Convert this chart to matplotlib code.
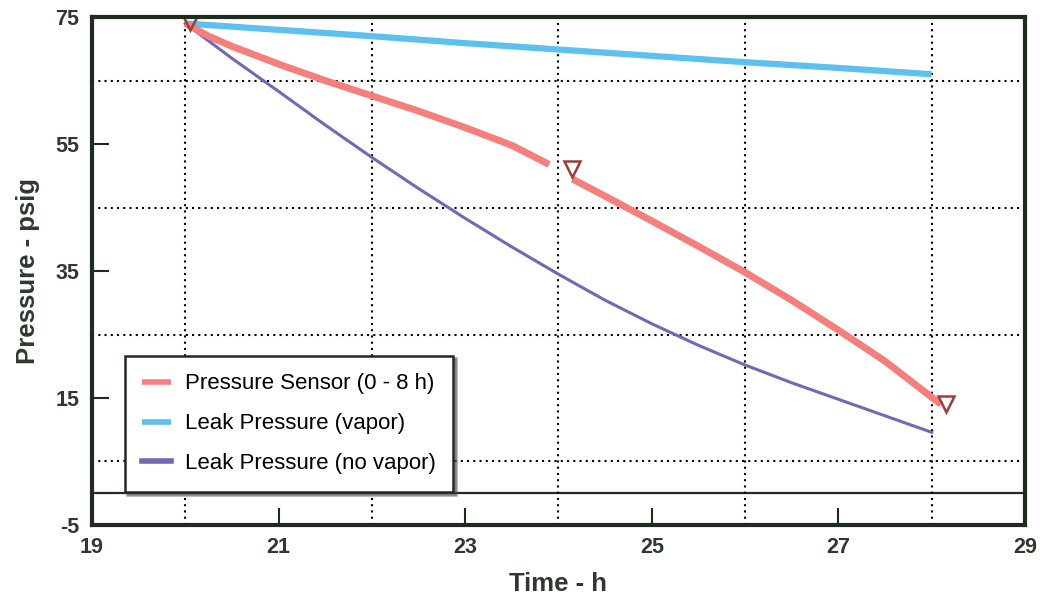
import matplotlib
matplotlib.use("Agg")
import matplotlib.pyplot as plt

plt.rcParams["axes.unicode_minus"] = False
plt.rcParams["font.family"] = ["Liberation Sans", "DejaVu Sans"]

# Data
t_sensor_a = [20.0, 20.25, 20.5, 21.0, 21.5, 22.0, 22.5, 23.0, 23.5, 23.9]
p_sensor_a = [74.0, 72.0, 70.4, 67.6, 65.0, 62.6, 60.2, 57.6, 54.8, 51.8]
t_sensor_b = [24.15, 24.5, 25.0, 25.5, 26.0, 26.5, 27.0, 27.5, 28.1]
p_sensor_b = [49.5, 46.8, 42.9, 38.9, 34.8, 30.4, 25.7, 20.8, 14.0]

t_vapor = [20.0, 21.0, 22.0, 23.0, 24.0, 25.0, 26.0, 27.0, 28.0]
p_vapor = [74.0, 73.0, 72.0, 70.9, 69.9, 68.9, 67.9, 67.0, 66.0]

t_novapor = [20.0, 20.5, 21.0, 21.5, 22.0, 22.5, 23.0, 23.5, 24.0,
             24.5, 25.0, 25.5, 26.0, 26.5, 27.0, 27.5, 28.0]
p_novapor = [74.0, 68.5, 63.3, 58.0, 52.9, 48.0, 43.3, 38.8, 34.5,
             30.4, 26.7, 23.3, 20.2, 17.4, 14.8, 12.2, 9.6]

t_marks = [20.05, 24.15, 28.15]
p_marks = [74.3, 51.0, 14.0]

x_ticks = [19, 21, 23, 25, 27, 29]
y_ticks = [-5, 15, 35, 55, 75]
x_grid = [20, 22, 24, 26, 28]
y_grid = [5, 25, 45, 65]

dark = "#1f2b1f"
text_col = "#2e3a2e"
red = "#f47f7c"
blue = "#5ec0ee"
purple = "#7467b4"

fig = plt.figure(figsize=(10.4, 6.01), dpi=100)
ax = fig.add_axes([0.0885, 0.1265, 0.897, 0.845])

ax.plot(t_vapor, p_vapor, color=blue, lw=4.5, solid_capstyle="butt",
        label="Leak Pressure (vapor)")
ax.plot(t_novapor, p_novapor, color=purple, lw=2.2,
        label="Leak Pressure (no vapor)")
ax.plot(t_sensor_a, p_sensor_a, color=red, lw=5, solid_capstyle="butt",
        label="Pressure Sensor (0 - 8 h)")
ax.plot(t_sensor_b, p_sensor_b, color=red, lw=5, solid_capstyle="butt")
ax.plot(t_marks, p_marks, linestyle="none", marker="v", ms=11,
        markerfacecolor="none", markeredgecolor="#9c3c3c", mew=1.8)

ax.axhline(0, color=dark, lw=1.6, zorder=1)

ax.set_xlim(19, 29)
ax.set_ylim(-5, 75)
ax.set_xticks(x_ticks)
ax.set_yticks(y_ticks)
ax.set_xticks(x_grid, minor=True)
ax.set_yticks(y_grid, minor=True)
ax.grid(which="minor", linestyle=(0, (1, 2)), color="black", lw=1.5)
ax.tick_params(which="minor", length=0)
ax.tick_params(which="major", direction="in", length=12, width=1.5,
               color=dark, pad=9, labelcolor=text_col, labelsize=15.5)

ax.set_xticklabels([str(v) for v in x_ticks], fontweight="bold", fontsize=15.5)
ax.set_yticklabels([str(v) for v in y_ticks], fontweight="bold", fontsize=15.5)

for sp in ax.spines.values():
    sp.set_linewidth(3)
    sp.set_color(dark)

ax.set_xlabel("Time - h", fontweight="bold", fontsize=18.5,
              color=text_col, labelpad=10)
ax.set_ylabel("Pressure - psig", fontweight="bold", fontsize=18.5,
              color=text_col, labelpad=11)

# legend in the original order
handles, labels = ax.get_legend_handles_labels()
order = [2, 0, 1]
leg = ax.legend([handles[i] for i in order], [labels[i] for i in order],
                loc="lower left", bbox_to_anchor=(0.035, 0.065),
                borderaxespad=0, fancybox=False, shadow=True,
                prop={"size": 16},
                handlelength=1.3, labelspacing=0.85, borderpad=0.8,
                handletextpad=0.6)
leg.get_frame().set_edgecolor(dark)
leg.get_frame().set_linewidth(1.8)
for line in leg.get_lines():
    line.set_linewidth(4)

fig.savefig("out.png", dpi=100)
